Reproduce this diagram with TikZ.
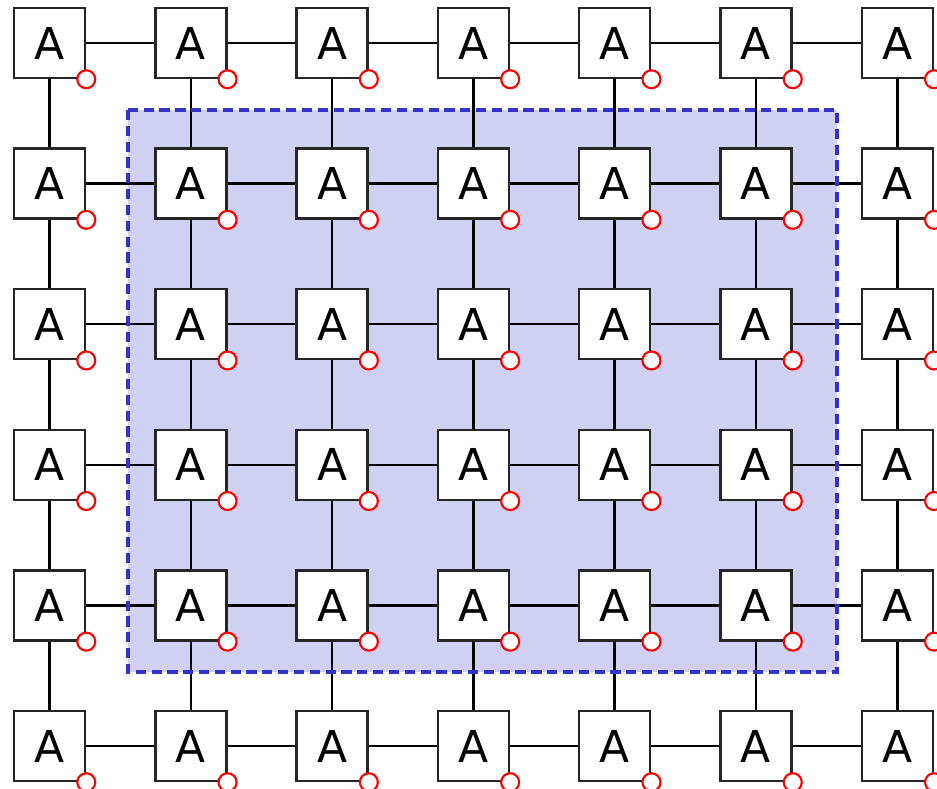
\documentclass[tikz,border=0pt]{standalone}
\usepackage{fontspec}
\setmainfont{DejaVu Sans}
\begin{document}
\begin{tikzpicture}[x=0.01cm,y=-0.01cm,
  cell/.style={draw=black!85,line width=0.7pt,fill=white,minimum width=0.71cm,minimum height=0.70cm,inner sep=0pt,font=\fontsize{12.5}{14}\selectfont},
  port/.style={circle,draw=red,line width=0.6pt,fill=white,minimum size=0.18cm,inner sep=0pt},
  link/.style={black,line width=0.7pt},
  region/.style={fill={rgb,255:red,208;green,208;blue,242},draw=none},
  regionborder/.style={draw={rgb,255:red,51;green,51;blue,204},line width=1.1pt,dash pattern=on 2.9pt off 1.6pt}]
\useasboundingbox (0,0) rectangle (937,789);
\fill[region] (128,110) rectangle (837,672);
\foreach \r in {0,...,5}{
  \foreach \c in {0,...,6}{
    \node[cell] (b-\r-\c) at ({49.5+141.3*\c},{43+140.6*\r}) {A};
  }
}
\foreach \r in {0,...,5}{
  \foreach \c [count=\n from 1] in {0,...,5}{
    \draw[link] (b-\r-\c) -- (b-\r-\n);
  }
}
\foreach \c in {0,...,6}{
  \foreach \r [count=\n from 1] in {0,...,4}{
    \draw[link] (b-\r-\c) -- (b-\n-\c);
  }
}
\draw[regionborder] (128,110) rectangle (837,672);
\foreach \r in {0,...,5}{
  \foreach \c in {0,...,6}{
    \node[port] (p-\r-\c) at (b-\r-\c.south east) {};
  }
}
\end{tikzpicture}
\end{document}
